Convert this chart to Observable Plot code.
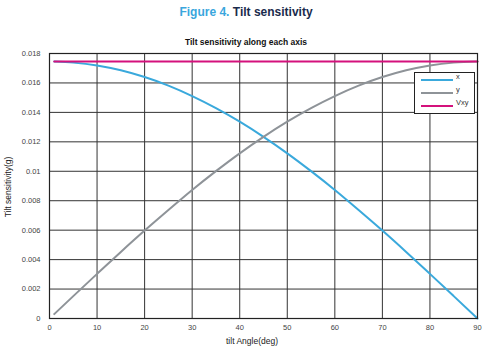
<!DOCTYPE html>
<html>
<head>
<meta charset="utf-8">
<script src="https://cdn.jsdelivr.net/npm/d3@7"></script>
<script src="https://cdn.jsdelivr.net/npm/@observablehq/plot@0.6"></script>
<style>
  html, body { margin: 0; padding: 0; background: #fff; }
  #wrap { position: relative; width: 492px; height: 354px; font-family: "Liberation Sans", Arial, sans-serif; overflow: hidden; }
  .abs { position: absolute; white-space: nowrap; }
  #fig { left: 0; width: 492px; top: 5px; text-align: center; font-weight: bold; font-size: 12px; }
  #ctitle { left: 0; width: 492px; top: 37px; text-align: center; font-weight: bold; font-size: 8.5px; color: #111; }
  #xlab { left: 226px; top: 336px; font-size: 8.5px; color: #222; }
  #ylab { left: 8px; top: 187px; font-size: 8.5px; color: #222; transform: translate(-50%, -50%) rotate(-90deg); }
  #legend { left: 414px; top: 72px; width: 61px; height: 42px; border: 1px solid #222; background: #fff; box-sizing: border-box; }
</style>
</head>
<body>
<div id="wrap">
  <div id="chart"></div>
  <div class="abs" id="fig"><span style="color:#3aa6dd">Figure 4.</span> <span style="color:#1a2b4c">Tilt sensitivity</span></div>
  <div class="abs" id="ctitle">Tilt sensitivity along each axis</div>
  <div class="abs" id="xlab">tilt Angle(deg)</div>
  <div class="abs" id="ylab">Tilt sensitivity(g)</div>
  <div class="abs" id="legend"></div>
</div>
<script>
// Data
const angles = [1, 5, 10, 15, 20, 25, 30, 35, 40, 45, 50, 55, 60, 65, 70, 75, 80, 85, 90];
const xValues = [0.01745, 0.01738, 0.01719, 0.01686, 0.01640, 0.01582, 0.01511, 0.01429, 0.01337, 0.01234, 0.01122, 0.01001, 0.00873, 0.00737, 0.00597, 0.00452, 0.00303, 0.00152, 0.0];
const yValues = [0.0003, 0.00152, 0.00303, 0.00452, 0.00597, 0.00737, 0.00873, 0.01001, 0.01122, 0.01234, 0.01337, 0.01429, 0.01511, 0.01582, 0.01640, 0.01686, 0.01719, 0.01738, 0.01745];
const vxyValues = [0.01745, 0.01745, 0.01745, 0.01745, 0.01745, 0.01745, 0.01745, 0.01745, 0.01745, 0.01745, 0.01745, 0.01745, 0.01745, 0.01745, 0.01745, 0.01745, 0.01745, 0.01745, 0.01745];
const seriesNames = ["x", "y", "Vxy"];
const seriesColors = ["#3aa9dc", "#8e9398", "#d4117c"];
const xTicks = [0, 10, 20, 30, 40, 50, 60, 70, 80, 90];
const yTicks = [0, 0.002, 0.004, 0.006, 0.008, 0.01, 0.012, 0.014, 0.016, 0.018];

const rows = [];
[xValues, yValues, vxyValues].forEach((vals, si) => {
  angles.forEach((a, i) => rows.push({angle: a, value: vals[i], series: seriesNames[si]}));
});

const plot = Plot.plot({
  width: 492,
  height: 354,
  marginLeft: 49,
  marginRight: 15,
  marginTop: 53,
  marginBottom: 36,
  style: {fontFamily: "'Liberation Sans', Arial, sans-serif", fontSize: "7.5px", color: "#444", background: "#fff"},
  x: {domain: [0, 90], ticks: xTicks, label: null},
  y: {domain: [0, 0.018], ticks: yTicks, label: null, tickFormat: d3.format("~g")},
  color: {domain: seriesNames, range: seriesColors},
  marks: [
    Plot.gridX(xTicks, {stroke: "#333", strokeOpacity: 1, strokeWidth: 1}),
    Plot.gridY(yTicks, {stroke: "#333", strokeOpacity: 1, strokeWidth: 1}),
    Plot.axisX({ticks: xTicks, tickSize: 0, tickPadding: 6, fill: "#444"}),
    Plot.axisY({ticks: yTicks, tickSize: 0, tickPadding: 9, tickFormat: d3.format("~g"), fill: "#444"}),
    Plot.line(rows, {x: "angle", y: "value", z: "series", stroke: "series", strokeWidth: 2, curve: "monotone-x"}),
    Plot.frame({stroke: "#222", strokeWidth: 1.2})
  ]
});
document.getElementById("chart").appendChild(plot);

// legend
const leg = d3.select("#legend").append("svg").attr("width", 59).attr("height", 40);
seriesNames.forEach((n, i) => {
  const y = 7 + i * 13;
  leg.append("line").attr("x1", 6).attr("x2", 38).attr("y1", y).attr("y2", y)
    .attr("stroke", seriesColors[i]).attr("stroke-width", 2);
  leg.append("text").attr("x", 41).attr("y", y - 1).attr("font-size", 7.5).attr("fill", "#333")
    .attr("font-family", "'Liberation Sans', Arial, sans-serif").text(n);
});
</script>
</body>
</html>
